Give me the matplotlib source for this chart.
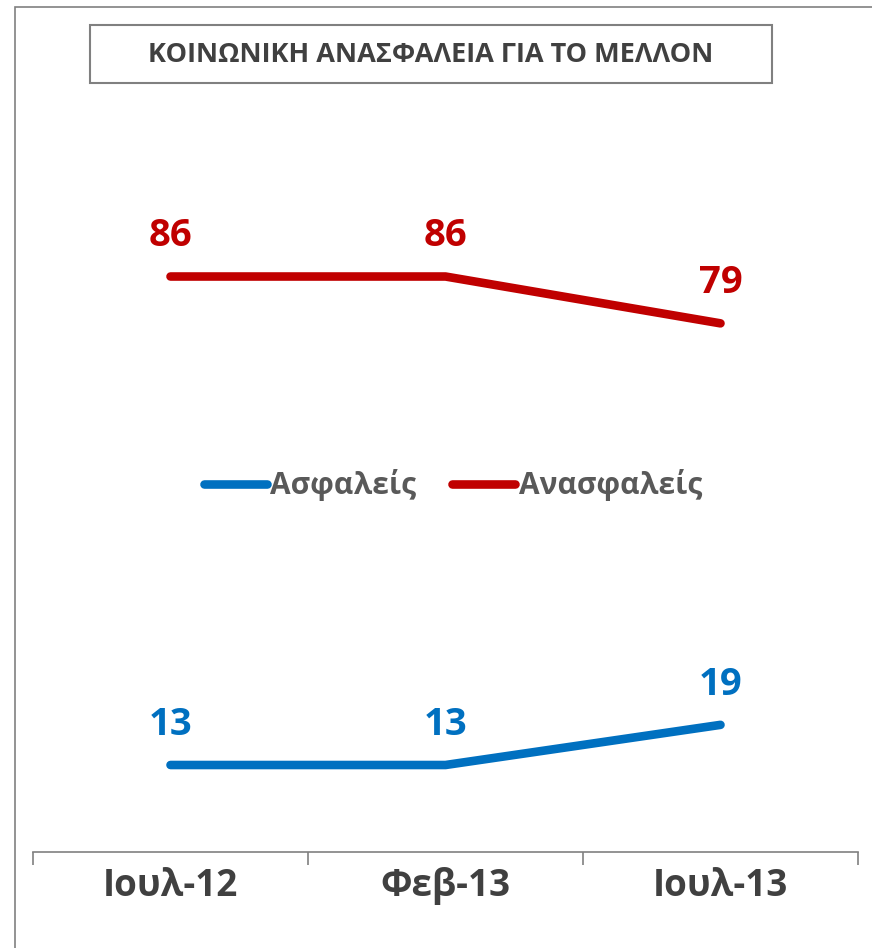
import matplotlib
matplotlib.use("Agg")
import matplotlib.pyplot as plt
from matplotlib.patches import Rectangle

plt.rcParams['font.family'] = ['Open Sans', 'DejaVu Sans']

categories = ['Ιουλ-12', 'Φεβ-13', 'Ιουλ-13']
asfaleis = [13, 13, 19]
anasfaleis = [86, 86, 79]
title = 'ΚΟΙΝΩΝΙΚΗ ΑΝΑΣΦΑΛΕΙΑ ΓΙΑ ΤΟ ΜΕΛΛΟΝ'

blue = '#0070C0'
red = '#C00000'
grey = '#808080'

W, H = 872, 948
fig = plt.figure(figsize=(W / 100, H / 100), dpi=100)

# outer frame (right/bottom sides fall outside the picture)
fig.add_artist(Rectangle((15 / W, -0.1), 1.2, 1 - 7 / H + 0.1, transform=fig.transFigure,
                         fill=False, edgecolor=grey, lw=1.2))
# title box
fig.add_artist(Rectangle((90 / W, 1 - 83 / H), (772 - 90) / W, 58 / H, transform=fig.transFigure,
                         fill=False, edgecolor=grey, lw=1.5))
fig.text(431 / W, 1 - 55 / H, title, ha='center', va='center', fontsize=19.5,
         fontweight='bold', color='#404040')

ax = fig.add_axes([33 / W, 1 - 852 / H, (858 - 33) / W, (852 - 49) / H])
x = list(range(len(categories)))
ax.plot(x, asfaleis, color=blue, lw=6.2, solid_capstyle='round', solid_joinstyle='round', label='Ασφαλείς')
ax.plot(x, anasfaleis, color=red, lw=6.2, solid_capstyle='round', solid_joinstyle='round', label='Ανασφαλείς')

for xi, v in zip(x, asfaleis):
    ax.annotate(str(v), (xi, v), xytext=(0, 29), textcoords='offset points', ha='center', va='center',
                fontsize=27.5, fontweight='bold', color=blue)
for xi, v in zip(x, anasfaleis):
    ax.annotate(str(v), (xi, v), xytext=(0, 29), textcoords='offset points', ha='center', va='center',
                fontsize=27.5, fontweight='bold', color=red)

ax.set_xlim(-0.5, 2.5)
ax.set_ylim(0, 120)
ax.set_yticks([])
for s in ['top', 'right', 'left']:
    ax.spines[s].set_visible(False)
ax.spines['bottom'].set_color(grey)
ax.spines['bottom'].set_linewidth(1.2)
ax.set_xticks(x)
ax.set_xticklabels(categories, fontsize=26.5, fontweight='bold', color='#404040')
ax.set_xticks([-0.5, 0.5, 1.5, 2.5], minor=True)
ax.tick_params(axis='x', which='major', length=0, pad=11)
ax.tick_params(axis='x', which='minor', length=9, color=grey, width=1.2)
ax.patch.set_alpha(0)

fig.legend(loc='center', bbox_to_anchor=(453 / W, 1 - 485 / H), ncol=2, frameon=False,
           prop={'size': 21.5, 'weight': 'bold'}, labelcolor='#595959',
           handlelength=2.1, handletextpad=0.13, columnspacing=1.2)

fig.savefig('out.png', dpi=100)
